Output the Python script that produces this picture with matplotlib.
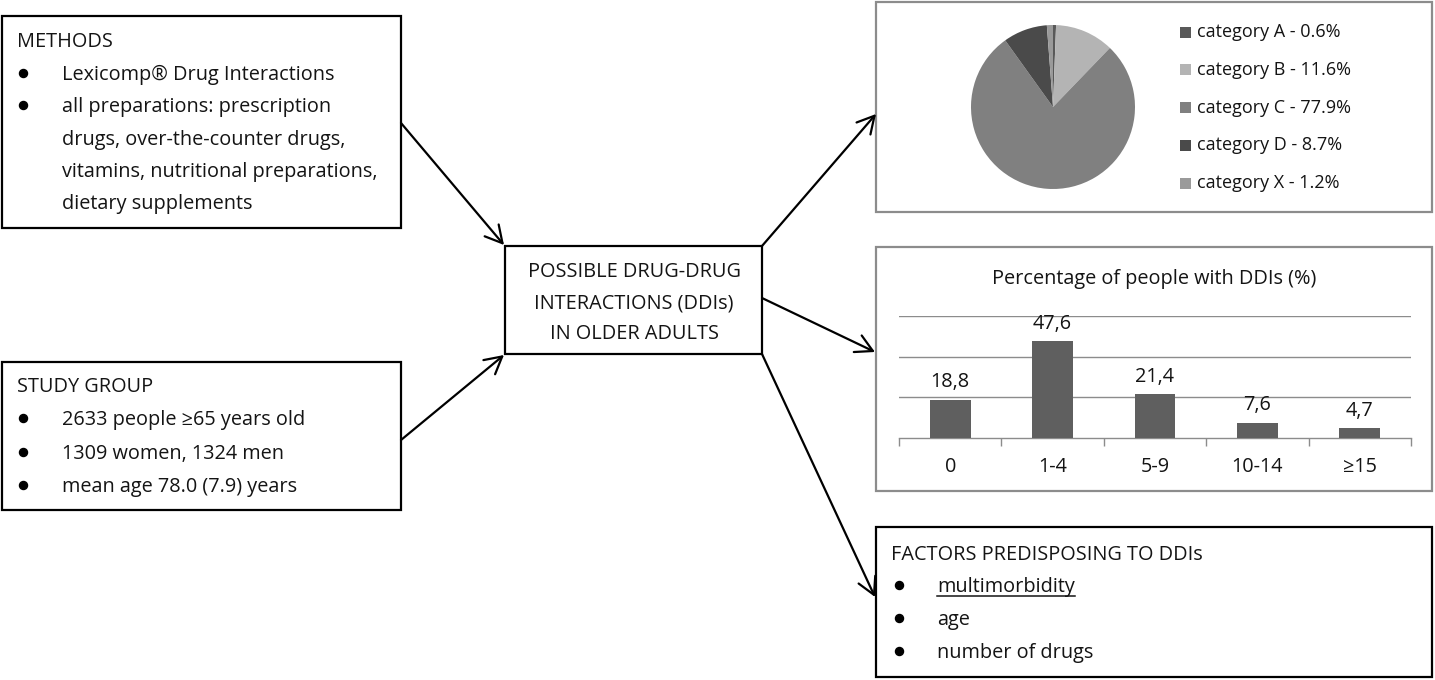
import matplotlib
matplotlib.use("Agg")
import matplotlib.pyplot as plt
from matplotlib.patches import Rectangle, FancyArrowPatch

plt.rcParams['font.family'] = ['Open Sans', 'DejaVu Sans']

# ---- data ----
pie_categories = ["category A", "category B", "category C", "category D", "category X"]
pie_values = [0.6, 11.6, 77.9, 8.7, 1.2]
pie_colors = ["#595959", "#b4b4b4", "#808080", "#4a4a4a", "#9a9a9a"]

bar_categories = ["0", "1-4", "5-9", "10-14", "≥15"]
bar_values = [18.8, 47.6, 21.4, 7.6, 4.7]
bar_title = "Percentage of people with DDIs (%)"

methods_title = "METHODS"
methods_items = [["Lexicomp® Drug Interactions"],
                 ["all preparations: prescription", "drugs, over-the-counter drugs,",
                  "vitamins, nutritional preparations,", "dietary supplements"]]
study_title = "STUDY GROUP"
study_items = ["2633 people ≥65 years old", "1309 women, 1324 men", "mean age 78.0 (7.9) years"]
center_lines = ["POSSIBLE DRUG-DRUG", "INTERACTIONS (DDIs)", "IN OLDER ADULTS"]
factors_title = "FACTORS PREDISPOSING TO DDIs"
factors_items = ["multimorbidity", "age", "number of drugs"]

W, H = 1435, 680
FS = 14.3
FS_LEG = 13.0
TXT = "#141414"
DY = 2  # small downward nudge so text sits on the same line as the bullets

fig = plt.figure(figsize=(W / 100, H / 100), dpi=100)
ov = fig.add_axes([0, 0, 1, 1])
ov.set_xlim(0, W)
ov.set_ylim(H, 0)
ov.axis("off")


def box(x0, y0, x1, y1, color="black"):
    ov.add_patch(Rectangle((x0, y0), x1 - x0, y1 - y0, fill=False,
                           edgecolor=color, lw=1.6, zorder=3))


def arrow(p0, p1):
    ov.add_patch(FancyArrowPatch(p0, p1, arrowstyle="->,head_length=0.55,head_width=0.3",
                                 mutation_scale=22, lw=1.6, color="black",
                                 shrinkA=0, shrinkB=0, zorder=4))


def bullet(x, y):
    ov.plot([x], [y], marker="o", markersize=5.8, color="black", zorder=5)


def label(x, y, s, **kw):
    kw.setdefault("fontsize", FS)
    kw.setdefault("va", "center")
    return ov.text(x, y + DY, s, color=TXT, **kw)


# ---- boxes ----
box(2, 16, 401, 228)
box(2, 362, 401, 510)
box(505, 246, 762, 354)
box(876, 2, 1432, 212, color="#8c8c8c")
box(876, 247, 1432, 491, color="#8c8c8c")
box(876, 527, 1432, 677)

# ---- arrows ----
arrow((401, 123), (504, 245))
arrow((401, 440), (504, 355))
arrow((762, 246), (876, 114))
arrow((762, 298), (875, 352))
arrow((762, 354), (875, 597))

# ---- methods box ----
label(17, 40, methods_title)
y = 73
for item in methods_items:
    bullet(23, y)
    for line in item:
        label(62, y, line)
        y += 32.3

# ---- study group box ----
label(17, 385, study_title)
for i, item in enumerate(study_items):
    yy = 418 + i * 33.5
    bullet(23, yy)
    label(62, yy, item)

# ---- center box ----
for i, line in enumerate(center_lines):
    label(634, 270 + i * 31, line, ha="center")

# ---- factors box ----
label(891, 553, factors_title)
factor_texts = []
for i, item in enumerate(factors_items):
    yy = 585 + i * 33
    bullet(899, yy)
    factor_texts.append(label(937, yy, item))

# ---- pie chart ----
cx, cy, r = 1053, 107, 82
pax = fig.add_axes([(cx - r) / W, 1 - (cy + r) / H, 2 * r / W, 2 * r / H])
wedges, _ = pax.pie(pie_values, colors=pie_colors, startangle=90, counterclock=False,
                    wedgeprops=dict(linewidth=0))
pax.set_xlim(-1, 1)
pax.set_ylim(-1, 1)
pax.set_aspect("equal")

for i, (cat, val, col) in enumerate(zip(pie_categories, pie_values, pie_colors)):
    yy = 32 + i * 37.8
    ov.add_patch(Rectangle((1180, yy - 5.5), 11, 11, facecolor=col, edgecolor="none"))
    ov.text(1197, yy, f"{cat} - {val}%", fontsize=FS_LEG, color=TXT, va="center")

# ---- bar chart ----
bx0, bx1, by0, by1 = 899, 1411, 316, 438
bax = fig.add_axes([bx0 / W, 1 - by1 / H, (bx1 - bx0) / W, (by1 - by0) / H])
xs = list(range(len(bar_categories)))
bars = bax.bar(xs, bar_values, width=0.4, color="#5f5f5f", zorder=3)
bax.set_xlim(-0.5, len(bar_categories) - 0.5)
bax.set_ylim(0, 60)
bax.set_yticks([20, 40, 60])
bax.yaxis.grid(True, color="#8c8c8c", lw=1.0)
bax.tick_params(axis="y", left=False, labelleft=False)
for s in ["top", "right", "left"]:
    bax.spines[s].set_visible(False)
bax.spines["bottom"].set_color("#8c8c8c")
bax.spines["bottom"].set_linewidth(1.0)
bax.set_xticks(xs)
bax.set_xticklabels(bar_categories, fontsize=FS, color=TXT)
bax.tick_params(axis="x", which="major", length=0, pad=14)
bax.set_xticks([x - 0.5 for x in range(len(bar_categories) + 1)], minor=True)
bax.tick_params(axis="x", which="minor", length=6, color="#8c8c8c", width=1.0)
bax.set_facecolor("none")
for rect, v in zip(bars, bar_values):
    bax.annotate(f"{v:.1f}".replace(".", ","), (rect.get_x() + rect.get_width() / 2, v),
                 xytext=(0, 5.5), textcoords="offset points", ha="center", va="bottom",
                 fontsize=FS, color=TXT)
label(1154, 277, bar_title, ha="center")

# underline for the first factor
fig.canvas.draw()
renderer = fig.canvas.get_renderer()
bb = factor_texts[0].get_window_extent(renderer=renderer)
inv = ov.transData.inverted()
(ux0, uy0), (ux1, _) = inv.transform([(bb.x0, bb.y0), (bb.x1, bb.y0)])
ov.plot([ux0, ux1], [uy0 - 1, uy0 - 1], color=TXT, lw=1.1)

fig.savefig("out.png", dpi=100)
